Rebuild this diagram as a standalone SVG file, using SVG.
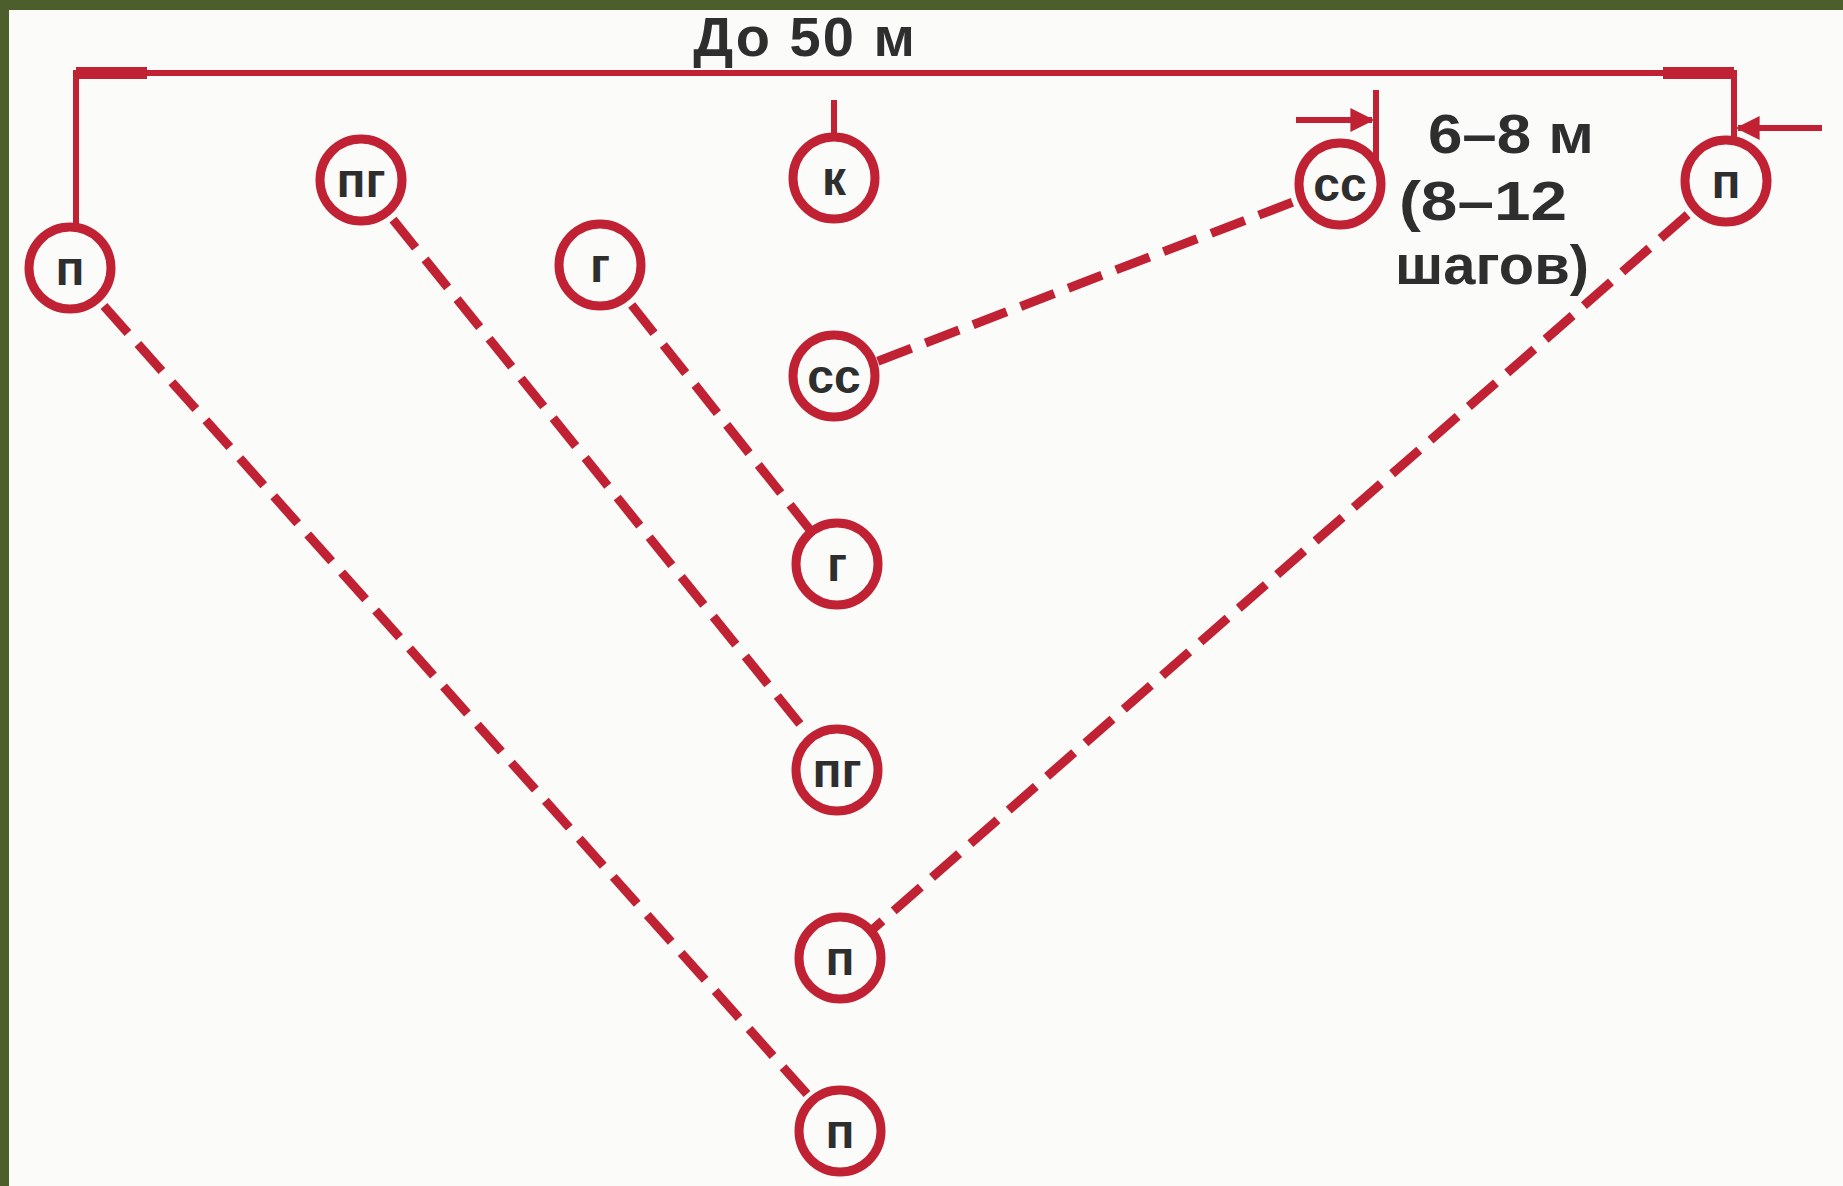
<svg xmlns="http://www.w3.org/2000/svg" width="1843" height="1186" viewBox="0 0 1843 1186">
<defs>
<style>
.bg{fill:#fbfbfa}
.frame{fill:#4b5e2b}
.node circle{fill:#fbfbfa;stroke:#c02234;stroke-width:9}
.node text{font-family:"Liberation Sans",Arial,sans-serif;font-weight:bold;font-size:48px;fill:#2e2e2e;text-anchor:middle}
.dash{fill:none;stroke:#c02234;stroke-width:9;stroke-dasharray:36 15}
.solid{fill:none;stroke:#c02234;stroke-width:6}
.thick{fill:#c02234}
.lbl{font-family:"Liberation Sans",Arial,sans-serif;font-weight:bold;font-size:56px;fill:#2e2e2e}
</style>
<marker id="ah" viewBox="0 0 10 10" refX="9" refY="5" markerWidth="4.5" markerHeight="4" orient="auto">
<path d="M0,0 L10,5 L0,10 z" fill="#c02234"/>
</marker>
</defs>
<rect class="bg" x="0" y="0" width="1843" height="1186"/>
<rect class="frame" x="0" y="0" width="1843" height="10"/>
<rect class="frame" x="0" y="0" width="9" height="1186"/>
<text class="lbl" x="805" y="56" text-anchor="middle" font-size="60" letter-spacing="2">До 50 м</text>
<g id="connectors">
<path class="solid" d="M76,230 V73 H1734 V143"/>
<rect class="thick" x="76" y="67" width="71" height="12"/>
<rect class="thick" x="1663" y="67" width="71" height="12"/>
<line class="solid" x1="834" y1="100" x2="834" y2="140"/>
<line class="solid" x1="1376" y1="90" x2="1376" y2="170"/>
<line class="solid" x1="1296" y1="120" x2="1372" y2="120" marker-end="url(#ah)"/>
<line class="solid" x1="1822" y1="128" x2="1738" y2="128" marker-end="url(#ah)"/>
<line class="dash" x1="70" y1="268" x2="840" y2="1131"/>
<line class="dash" x1="361" y1="180" x2="837" y2="770"/>
<line class="dash" x1="600" y1="265" x2="837" y2="564"/>
<line class="dash" x1="1340" y1="184" x2="834" y2="378"/>
<line class="dash" x1="1726" y1="181" x2="840" y2="958"/>
</g>
<g id="n-p1" class="node"><circle cx="70" cy="268" r="41"/><text x="70" y="285">п</text></g>
<g id="n-pg1" class="node"><circle cx="361" cy="180" r="41"/><text x="361" y="197">пг</text></g>
<g id="n-g1" class="node"><circle cx="600" cy="265" r="41"/><text x="600" y="282">г</text></g>
<g id="n-k" class="node"><circle cx="834" cy="178" r="41"/><text x="834" y="195">к</text></g>
<g id="n-ss1" class="node"><circle cx="1340" cy="184" r="41"/><text x="1340" y="201">сс</text></g>
<g id="n-p2" class="node"><circle cx="1726" cy="181" r="41"/><text x="1726" y="198">п</text></g>
<g id="n-ss2" class="node"><circle cx="834" cy="376" r="41"/><text x="834" y="393">сс</text></g>
<g id="n-g2" class="node"><circle cx="837" cy="564" r="41"/><text x="837" y="581">г</text></g>
<g id="n-pg2" class="node"><circle cx="837" cy="770" r="41"/><text x="837" y="787">пг</text></g>
<g id="n-p3" class="node"><circle cx="840" cy="958" r="41"/><text x="840" y="975">п</text></g>
<g id="n-p4" class="node"><circle cx="840" cy="1131" r="41"/><text x="840" y="1148">п</text></g>
<text class="lbl" x="1428" y="153" textLength="166" lengthAdjust="spacingAndGlyphs">6–8 м</text>
<text class="lbl" x="1399" y="220" textLength="168" lengthAdjust="spacingAndGlyphs">(8–12</text>
<text class="lbl" x="1395" y="284" textLength="194" lengthAdjust="spacingAndGlyphs">шагов)</text>
</svg>
